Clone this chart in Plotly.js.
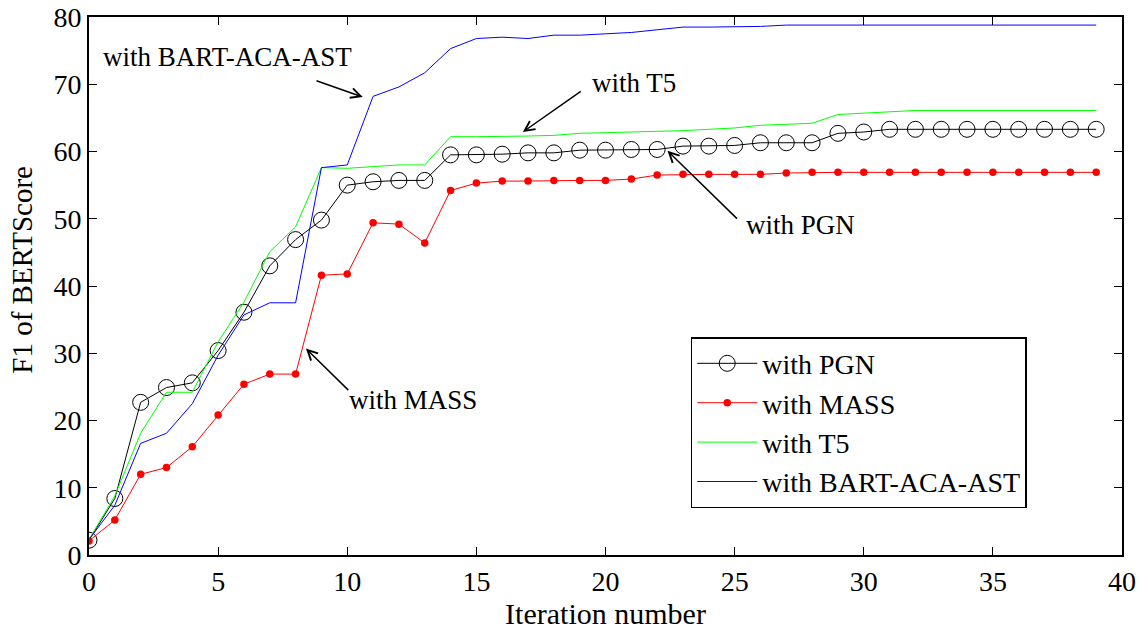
<!DOCTYPE html>
<html>
<head>
<meta charset="utf-8">
<script src="https://cdn.plot.ly/plotly-3.0.1.min.js"></script>
<style>html,body{margin:0;padding:0;background:#fff;}#chart{width:1142px;height:630px;}</style>
</head>
<body>
<div id="chart"></div>
<script>
const iterations = [0,1,2,3,4,5,6,7,8,9,10,11,12,13,14,15,16,17,18,19,20,21,22,23,24,25,26,27,28,29,30,31,32,33,34,35,36,37,38,39];
const pgn = [2.2,8.4,22.7,24.9,25.6,30.4,36.1,43.0,46.9,49.8,55.0,55.5,55.7,55.7,59.5,59.5,59.6,59.8,59.8,60.2,60.2,60.3,60.3,60.8,60.8,60.9,61.3,61.3,61.3,62.7,62.9,63.3,63.3,63.3,63.3,63.3,63.3,63.3,63.3,63.3];
const mass = [2.1,5.2,12.0,13.0,16.1,20.8,25.4,26.9,26.9,41.6,41.8,49.4,49.2,46.4,54.2,55.3,55.6,55.6,55.7,55.7,55.7,55.9,56.5,56.6,56.6,56.6,56.6,56.8,56.9,56.9,56.9,56.9,56.9,56.9,56.9,56.9,56.9,56.9,56.9,56.9];
const t5 = [2.3,8.8,18.1,24.2,24.2,31.7,37.6,45.1,48.8,57.6,57.5,57.8,58.0,58.0,62.2,62.2,62.2,62.3,62.4,62.7,62.8,62.9,62.9,63.1,63.3,63.5,63.9,64.0,64.2,65.5,65.7,66.0,66.1,66.1,66.1,66.1,66.1,66.1,66.1,66.1];
const bart = [2.3,7.4,16.6,18.1,22.5,29.7,35.7,37.5,37.5,57.6,58.0,68.2,69.6,71.7,75.3,76.8,77.0,76.8,77.3,77.3,77.5,77.7,78.1,78.5,78.5,78.5,78.6,78.8,78.8,78.8,78.8,78.8,78.8,78.8,78.8,78.8,78.8,78.8,78.8,78.8];
const seriesNames = ["with PGN","with MASS","with T5","with BART-ACA-AST"];
const xTicks = [0,5,10,15,20,25,30,35,40];
const yTicks = [0,10,20,30,40,50,60,70,80];
const xTitle = "Iteration number";
const yTitle = "F1 of BERTScore";

const FONT = "Liberation Serif, Times New Roman, serif";

const traces = [
  {x: iterations, y: pgn, name: seriesNames[0], mode: "lines+markers",
   line: {color: "#000000", width: 1},
   marker: {symbol: "circle-open", size: 16, color: "#000000", line: {width: 1}}},
  {x: iterations, y: mass, name: seriesNames[1], mode: "lines+markers",
   line: {color: "#ff0000", width: 1},
   marker: {symbol: "circle", size: 7.5, color: "#ff0000"}},
  {x: iterations, y: t5, name: seriesNames[2], mode: "lines",
   line: {color: "#00ff00", width: 1}},
  {x: iterations, y: bart, name: seriesNames[3], mode: "lines",
   line: {color: "#0000ff", width: 1}}
];

function arrow(xh, yh, xt, yt) {
  return {x: xh, y: yh, ax: xt, ay: yt, xref: "x", yref: "y", axref: "x", ayref: "y",
    text: "", showarrow: true, arrowhead: 5, arrowsize: 1.3, arrowwidth: 1.5, arrowcolor: "#000"};
}
function label(txt, xl, yc) {
  return {x: xl, y: yc, xref: "x", yref: "y", text: txt, showarrow: false,
    xanchor: "left", yanchor: "middle", font: {family: FONT, size: 27, color: "#000"}};
}

const annotations = [
  label("with BART-ACA-AST", 0.45, 74.0),
  arrow(10.6, 68.1, 8.75, 70.6),
  label("with T5", 19.4, 70.2),
  arrow(16.8, 62.9, 19.1, 69.1),
  label("with PGN", 25.35, 49.0),
  arrow(22.4, 60.1, 25.15, 49.8),
  label("with MASS", 10.0, 23.0),
  arrow(8.4, 30.7, 10.1, 24.3),
  {x: -0.065, y: 0.53, xref: "paper", yref: "paper", text: yTitle, showarrow: false,
   textangle: -90, xanchor: "center", yanchor: "middle",
   font: {family: FONT, size: 29, color: "#000"}}
];

const layout = {
  width: 1142, height: 630,
  margin: {l: 89, r: 20, t: 17, b: 75},
  paper_bgcolor: "#fff", plot_bgcolor: "#fff",
  font: {family: FONT, color: "#000", size: 28},
  showlegend: true,
  legend: {x: 0.5825, y: 0.405, xanchor: "left", yanchor: "top",
    bordercolor: "#000", borderwidth: 1.5, bgcolor: "#fff",
    font: {family: FONT, size: 28, color: "#000"}, tracegroupgap: 0, itemwidth: 60},
  xaxis: {range: [0, 40], tickvals: xTicks, ticktext: xTicks.map(String),
    ticks: "inside", ticklen: 8, tickwidth: 1, tickcolor: "#000",
    showline: true, linecolor: "#000", linewidth: 2, mirror: "ticks",
    showgrid: false, zeroline: false,
    tickfont: {family: FONT, size: 28, color: "#000"},
    title: {text: xTitle, font: {family: FONT, size: 30, color: "#000"}, standoff: 0}},
  yaxis: {range: [0, 80], tickvals: yTicks, ticktext: yTicks.map(String),
    ticks: "inside", ticklen: 8, tickwidth: 1, tickcolor: "#000",
    showline: true, linecolor: "#000", linewidth: 2, mirror: "ticks",
    showgrid: false, zeroline: false,
    tickfont: {family: FONT, size: 28, color: "#000"}},
  annotations: annotations
};

Plotly.newPlot("chart", traces, layout, {displayModeBar: false, staticPlot: true});
</script>
</body>
</html>
